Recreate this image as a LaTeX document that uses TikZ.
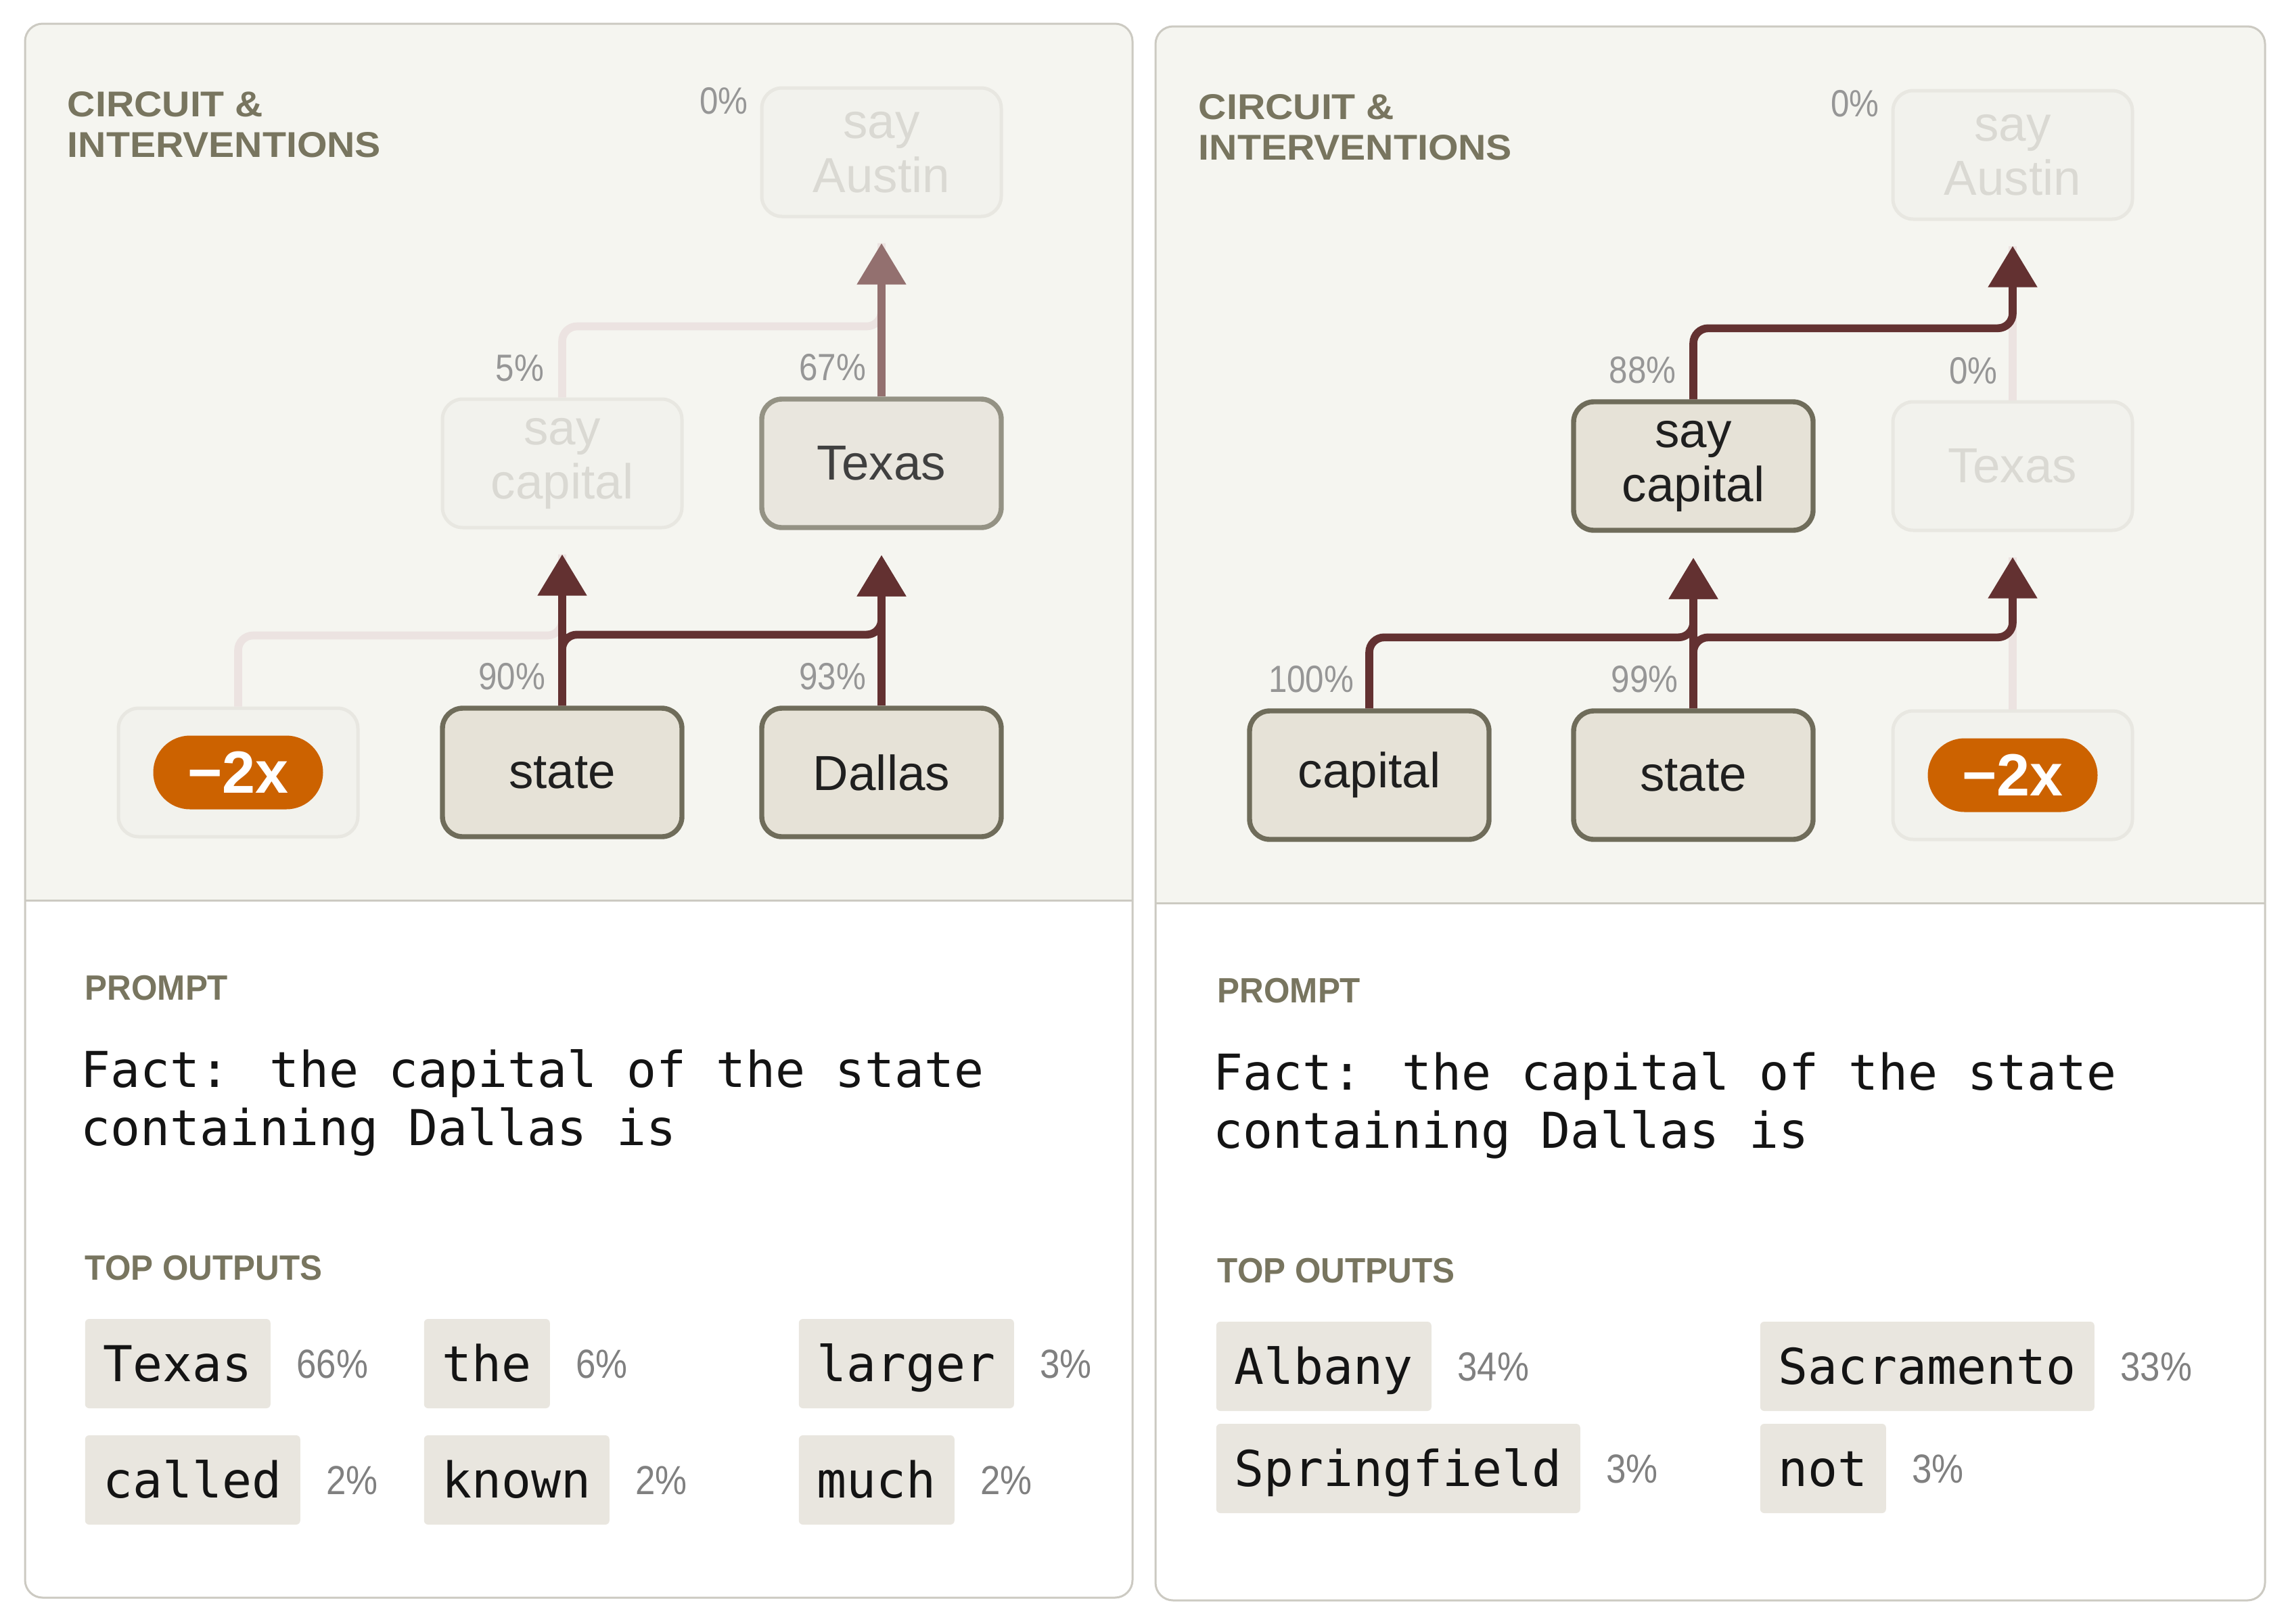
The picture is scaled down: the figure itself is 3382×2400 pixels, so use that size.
\documentclass[tikz,border=0pt]{standalone}
\usepackage{fontspec}
\setmainfont{Liberation Sans}
\newfontfamily\labfont{Liberation Sans}
\newfontfamily\pctfont{Liberation Sans}[FakeStretch=0.88]
\newfontfamily\headA{Liberation Sans}[FakeStretch=1.08]
\newfontfamily\headB{Liberation Sans}[FakeStretch=0.95]
\newfontfamily\monof{DejaVu Sans Mono}
\usetikzlibrary{arrows.meta,calc}
\definecolor{panelbg}{HTML}{F5F5F0}
\definecolor{panelline}{HTML}{CCCAC2}
\definecolor{boxfill}{HTML}{E6E2D7}
\definecolor{boxdraw}{HTML}{6F6C5A}
\definecolor{midfill}{HTML}{E9E6DE}
\definecolor{middraw}{HTML}{949284}
\definecolor{fadefill}{HTML}{F2F2ED}
\definecolor{fadedraw}{HTML}{E8E7E1}
\definecolor{fadetext}{HTML}{DAD9D3}
\definecolor{arrowdark}{HTML}{633131}
\definecolor{arrowmid}{HTML}{93706F}
\definecolor{arrowfade}{HTML}{ECE3E1}
\definecolor{pillc}{HTML}{CC6200}
\definecolor{headc}{HTML}{78755F}
\definecolor{pctc}{HTML}{969696}
\definecolor{opctc}{HTML}{808080}
\definecolor{chipfill}{HTML}{E9E6DF}
\tikzset{
  panel/.style={draw=panelline, line width=0.75pt, rounded corners=6.5pt},
  nodebox/.style={rectangle, rounded corners=7.5pt, minimum width=88.5pt, minimum height=47.5pt, inner sep=0pt, align=center, font=\labfont\fontsize{18.2}{20}\selectfont},
  active/.style={nodebox, fill=boxfill, draw=boxdraw, line width=1.85pt, text=black!88},
  partial/.style={nodebox, fill=midfill, draw=middraw, line width=1.85pt, text=black!75},
  faded/.style={nodebox, fill=fadefill, draw=fadedraw, line width=1.25pt, text=fadetext},
  pillnode/.style={rectangle, rounded corners=13.6pt, fill=pillc, text=white, minimum width=62.75pt, minimum height=27.25pt, inner sep=0pt, font=\labfont\bfseries\fontsize{22}{22}\selectfont},
  conn/.style={line width=2.9pt, rounded corners=5.5pt},
  tipped/.style={-{Triangle[width=17.5pt,length=15.25pt]}},
  dark/.style={conn, draw=arrowdark},
  midc/.style={conn, draw=arrowmid},
  fade/.style={conn, draw=arrowfade},
  gpct/.style={font=\pctfont\fontsize{14}{14}\selectfont, text=pctc, inner sep=0pt, anchor=base east},
  opct/.style={font=\pctfont\fontsize{15}{15}\selectfont, text=opctc, inner sep=0pt, text height=10.75pt, text depth=0pt, anchor=west},
  chip/.style={fill=chipfill, rounded corners=1.5pt, inner xsep=6.75pt, inner ysep=0pt, minimum height=33pt, text height=13.3pt, text depth=0pt, font=\monof\fontsize{18.27}{21.5}\selectfont, text=black!92, anchor=west},
  prompttxt/.style={font=\monof\fontsize{18.27}{21.5}\selectfont, text=black!92, inner sep=0pt, anchor=base west},
  headtxt/.style={font=\headA\bfseries\fontsize{13.25}{15}\selectfont, text=headc, inner sep=0pt, anchor=base west},
  secttxt/.style={font=\headB\bfseries\fontsize{13}{15}\selectfont, text=headc, inner sep=0pt, anchor=base west}
}
\begin{document}
\begin{tikzpicture}[x=0.25pt,y=-0.25pt]
\useasboundingbox (0,0) rectangle (3382,2400);
\fill[white] (0,0) rectangle (3382,2400);

% ---------- panels ----------
\begin{scope}
  \clip[rounded corners=6.5pt] (37,35) rectangle (1674,2362);
  \fill[panelbg] (37,35) rectangle (1674,1331);
\end{scope}
\draw[panelline, line width=0.75pt] (37,1331) -- (1674,1331);
\draw[panel] (37,35) rectangle (1674,2362);

\begin{scope}
  \clip[rounded corners=6.5pt] (1708,39) rectangle (3348,2366);
  \fill[panelbg] (1708,39) rectangle (3348,1335);
\end{scope}
\draw[panelline, line width=0.75pt] (1708,1335) -- (3348,1335);
\draw[panel] (1708,39) rectangle (3348,2366);

% ---------- left panel: circuit ----------
\node[headtxt] (hL1) at (99,172) {CIRCUIT \&};
\node[headtxt] (hL2) at (99,232) {INTERVENTIONS};

\node[faded] (sa) at (1303,225) {say\\Austin};
\node[faded] (sc) at (831,685) {say\\capital};
\node[partial] (tx) at (1303,685) {Texas};
\node[faded] (m2) at (352,1142) {};
\node[pillnode] (pl) at (352,1142) {−2x};
\node[active] (st) at (831,1142) {state};
\node[active] (da) at (1303,1142) {Dallas};

\draw[fade] (m2.north) -- ++(0,-105) -| ($(sc.south)+(0,37)$);
\draw[fade] (sc.north) -- ++(0,-105) -| ($(sa.south)+(0,37)$);
\draw[midc,tipped] (tx.north) -- ($(sa.south)+(0,37)$);
\draw[dark,tipped] (st.north) -- ++(0,-105) -| ($(tx.south)+(0,37)$);
\draw[dark,tipped] (da.north) -- ($(tx.south)+(0,37)$);
\draw[dark,tipped] (st.north) -- ($(sc.south)+(0,37)$);

\node[gpct] (pL0) at ($(sa.north west)+(-17,41)$) {0\%};
\node[gpct] (pL5) at ($(sc.north)+(-26,-24)$) {5\%};
\node[gpct] (pL67) at ($(tx.north)+(-22,-24)$) {67\%};
\node[gpct] (pL90) at ($(st.north)+(-24,-24)$) {90\%};
\node[gpct] (pL93) at ($(da.north)+(-22,-24)$) {93\%};

% ---------- left panel: prompt & outputs ----------
\node[secttxt] (prL) at (125,1478) {PROMPT};
\node[prompttxt] (qL1) at (119,1607) {Fact: the capital of the state};
\node[prompttxt] (qL2) at (119,1693) {containing Dallas is};
\node[secttxt] (toL) at (125,1892) {TOP OUTPUTS};

\node[chip] (oL1) at (125,2016) {Texas};
\node[opct] (oL1p) at ($(oL1.east)+(37,0)$) {66\%};
\node[chip] (oL2) at (626,2016) {the};
\node[opct] (oL2p) at ($(oL2.east)+(37,0)$) {6\%};
\node[chip] (oL3) at (1180,2016) {larger};
\node[opct] (oL3p) at ($(oL3.east)+(37,0)$) {3\%};
\node[chip] (oL4) at (125,2188) {called};
\node[opct] (oL4p) at ($(oL4.east)+(37,0)$) {2\%};
\node[chip] (oL5) at (626,2188) {known};
\node[opct] (oL5p) at ($(oL5.east)+(37,0)$) {2\%};
\node[chip] (oL6) at (1180,2188) {much};
\node[opct] (oL6p) at ($(oL6.east)+(37,0)$) {2\%};

% ---------- right panel: circuit ----------
\node[headtxt] (hR1) at (1771,176) {CIRCUIT \&};
\node[headtxt] (hR2) at (1771,236) {INTERVENTIONS};

\node[faded] (saR) at (2975,229) {say\\Austin};
\node[active] (scR) at (2503,689) {say\\capital};
\node[faded] (txR) at (2975,689) {Texas};
\node[active] (cpR) at (2024,1146) {capital};
\node[active] (stR) at (2503,1146) {state};
\node[faded] (m2R) at (2975,1146) {};
\node[pillnode] (plR) at (2975,1146) {−2x};

\draw[fade] (m2R.north) -- ++(0,-105) -| ($(txR.south)+(0,37)$);
\draw[fade] (txR.north) -- ($(saR.south)+(0,37)$);
\draw[dark,tipped] (cpR.north) -- ++(0,-105) -| ($(scR.south)+(0,37)$);
\draw[dark,tipped] (stR.north) -- ++(0,-105) -| ($(txR.south)+(0,37)$);
\draw[dark,tipped] (stR.north) -- ($(scR.south)+(0,37)$);
\draw[dark,tipped] (scR.north) -- ++(0,-105) -| ($(saR.south)+(0,37)$);

\node[gpct] (pR0a) at ($(saR.north west)+(-17,41)$) {0\%};
\node[gpct] (pR88) at ($(scR.north)+(-25,-24)$) {88\%};
\node[gpct] (pR0b) at ($(txR.north)+(-22,-24)$) {0\%};
\node[gpct] (pR100) at ($(cpR.north)+(-22,-24)$) {100\%};
\node[gpct] (pR99) at ($(stR.north)+(-22,-24)$) {99\%};

% ---------- right panel: prompt & outputs ----------
\node[secttxt] (prR) at (1799,1482) {PROMPT};
\node[prompttxt] (qR1) at (1793,1611) {Fact: the capital of the state};
\node[prompttxt] (qR2) at (1793,1697) {containing Dallas is};
\node[secttxt] (toR) at (1799,1896) {TOP OUTPUTS};

\node[chip] (oR1) at (1797,2020) {Albany};
\node[opct] (oR1p) at ($(oR1.east)+(37,0)$) {34\%};
\node[chip] (oR2) at (2601,2020) {Sacramento};
\node[opct] (oR2p) at ($(oR2.east)+(37,0)$) {33\%};
\node[chip] (oR3) at (1797,2171) {Springfield};
\node[opct] (oR3p) at ($(oR3.east)+(37,0)$) {3\%};
\node[chip] (oR4) at (2601,2171) {not};
\node[opct] (oR4p) at ($(oR4.east)+(37,0)$) {3\%};
\end{tikzpicture}
\end{document}
